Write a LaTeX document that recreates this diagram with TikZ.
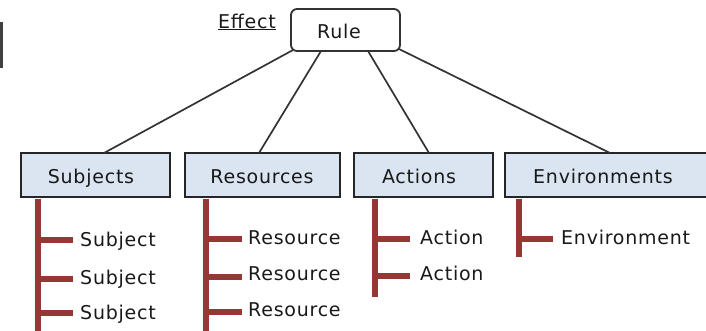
\documentclass[tikz,border=0pt]{standalone}
\usepackage{fontspec}
\setmainfont{DejaVu Sans}[LetterSpace=4]
\definecolor{boxfill}{HTML}{DBE5F1}
\definecolor{treered}{HTML}{953735}
\definecolor{linegray}{HTML}{333333}
\begin{document}
\begin{tikzpicture}[x=1pt,y=-1pt,
  lbl/.style={font=\fontsize{19}{22}\selectfont, text=black!90, inner sep=0pt},
  catbox/.style={draw=black!85, line width=2pt, fill=boxfill, inner sep=0pt},
  rulebox/.style={draw=black!80, line width=1.8pt, rounded corners=6pt, fill=white},
  conn/.style={draw=linegray, line width=1.7pt},
  tree/.style={draw=treered, line width=6pt},
  item/.style={lbl, anchor=base west}
]
\useasboundingbox (0,0) rectangle (706,330);
% left bar fragment
\fill[black!75] (0,22) rectangle (3,68);
% rule box
\draw[rulebox] (291,9) rectangle (400,51);
\node[lbl, anchor=base] (rule) at (339,38) {Rule};
\coordinate (r1) at (293,50);
\coordinate (r2) at (321,51);
\coordinate (r3) at (368,51);
\coordinate (r4) at (399,49);
\node[lbl, anchor=base] (effect) at (247,28) {\underline{Effect}};
% category boxes
\draw[catbox] (21,153) rectangle (170,197);
\draw[catbox] (185,153) rectangle (340,197);
\draw[catbox] (354,153) rectangle (493,197);
\draw[catbox] (505,153) rectangle (712,197);
\node[lbl, anchor=base] (subj) at (91,183) {Subjects};
\node[lbl, anchor=base] (res) at (262,183) {Resources};
\node[lbl, anchor=base] (act) at (419,183) {Actions};
\node[lbl, anchor=base] (env) at (603,183) {Environments};
\coordinate (subjtop) at (104,153);
\coordinate (restop) at (259,153);
\coordinate (acttop) at (429,153);
\coordinate (envtop) at (610,153);
% connectors
\draw[conn] (r1) -- (subjtop);
\draw[conn] (r2) -- (restop);
\draw[conn] (r3) -- (acttop);
\draw[conn] (r4) -- (envtop);
% subjects tree
\draw[tree] (38,199) -- (38,332);
\draw[tree] (38,240) -- (73,240);
\draw[tree] (38,279) -- (73,279);
\draw[tree] (38,313) -- (73,313);
\node[item] (s1) at (80,246) {Subject};
\node[item] (s2) at (80,284) {Subject};
\node[item] (s3) at (80,319) {Subject};
% resources tree
\draw[tree] (206,199) -- (206,332);
\draw[tree] (206,239) -- (242,239);
\draw[tree] (206,277) -- (242,277);
\draw[tree] (206,312) -- (242,312);
\node[item] (re1) at (248,244) {Resource};
\node[item] (re2) at (248,280) {Resource};
\node[item] (re3) at (248,316) {Resource};
% actions tree
\draw[tree] (375,199) -- (375,297);
\draw[tree] (375,239) -- (410,239);
\draw[tree] (375,276) -- (410,276);
\node[item] (a1) at (420,244) {Action};
\node[item] (a2) at (420,280) {Action};
% environments tree
\draw[tree] (519,199) -- (519,257);
\draw[tree] (519,239) -- (553,239);
\node[item] (e1) at (561,244) {Environment};
\end{tikzpicture}
\end{document}
